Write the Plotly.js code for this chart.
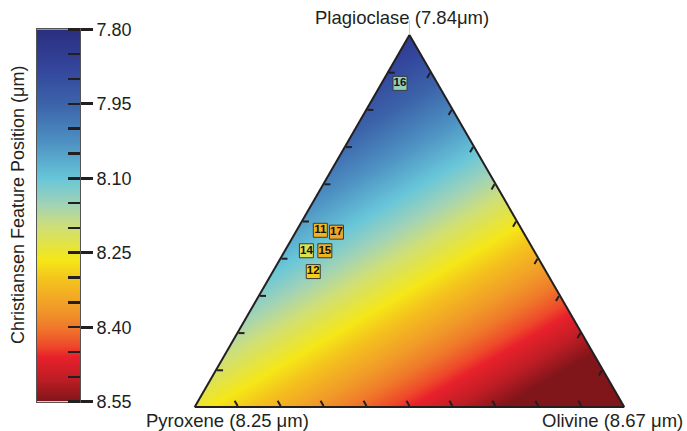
<!DOCTYPE html>
<html>
<head>
<meta charset="utf-8">
<script src="https://cdn.plot.ly/plotly-3.0.1.min.js"></script>
<style>
  html, body { margin: 0; padding: 0; background: #fff; }
  #chart { width: 687px; height: 431px; }
</style>
</head>
<body>
<div id="chart"></div>
<script>
// ---------- data ----------
const endmemberNames = ['Plagioclase', 'Pyroxene', 'Olivine'];
const endmemberCF = [7.84, 8.25, 8.67];            // µm, vertices a, b, c
const endmemberLabels = ['Plagioclase (7.84\u03bcm)', 'Pyroxene (8.25 \u03bcm)', 'Olivine (8.67 \u03bcm)'];

const sampleIds   = ['16', '11', '17', '14', '15', '12'];
const plagioclase = [0.87, 0.475, 0.47, 0.42, 0.42, 0.364];
const pyroxene    = [0.087, 0.47, 0.435, 0.53, 0.487, 0.542];
const olivine     = [0.043, 0.055, 0.095, 0.05, 0.093, 0.094];
const sampleCF    = [8.14, 8.325, 8.345, 8.225, 8.33, 8.29];

const cbTickVals = [7.80, 7.95, 8.10, 8.25, 8.40, 8.55];
const edgeTickVals = [0.1, 0.2, 0.3, 0.4, 0.5, 0.6, 0.7, 0.8, 0.9];
const cfMin = 7.80, cfMax = 8.55;

// ---------- style ----------
const cfScale = [
  [0.00, '#2b2f80'],
  [0.10, '#33459b'],
  [0.20, '#3c64aa'],
  [0.30, '#4d90c2'],
  [0.40, '#68c6d9'],
  [0.47, '#a2d3b6'],
  [0.53, '#cfdf78'],
  [0.62, '#f5e717'],
  [0.67, '#f4c41d'],
  [0.75, '#f19a29'],
  [0.80, '#ef7a2a'],
  [0.85, '#ee4a2a'],
  [0.88, '#e8212b'],
  [0.94, '#be1d25'],
  [1.00, '#80151a']
];
const FONT = 'Liberation Sans, Arial, Helvetica, sans-serif';
const INK = '#231f20';

const PW = 687, PH = 431;
const triTop = 35, triBottom = 407, triLeft = 194.7;
const triH = triBottom - triTop;
const triW = triH * 2 / Math.sqrt(3);
const dom = {
  x: [triLeft / PW, (triLeft + triW) / PW],
  y: [(PH - triBottom) / PH, (PH - triTop) / PH]
};
// cartesian frame for the colour field: a larger box on whole pixels
const boxL = 170, boxR = 650, boxT = 20, boxB = 425;
const fx0 = (boxL - triLeft) / triW, fx1 = (boxR - triLeft) / triW;
const fy0 = (triBottom - boxB) / triH, fy1 = (triBottom - boxT) / triH;
const cartDom = {
  x: [boxL / PW, boxR / PW],
  y: [(PH - boxB) / PH, (PH - boxT) / PH]
};

// linear mixing field across the triangle's box (x: 0..1 left->right, y: 0..1 bottom->apex)
const gx = [0, 0.5, 1], gy = [0, 0.5, 1];
const gz = gy.map(y => gx.map(x => {
  const a = y, c = x - y / 2, b = 1 - a - c;
  return a * endmemberCF[0] + b * endmemberCF[1] + c * endmemberCF[2];
}));

const field = {
  type: 'heatmap', x: gx, y: gy, z: gz, xaxis: 'x', yaxis: 'y',
  zsmooth: 'best', colorscale: cfScale, zmin: cfMin, zmax: cfMax,
  showscale: false, hoverinfo: 'skip'
};
const E = 0.5;
const maskStyle = { type: 'scatter', mode: 'lines', fill: 'toself', fillcolor: '#ffffff',
  line: { width: 0, color: '#ffffff' }, hoverinfo: 'skip', showlegend: false, xaxis: 'x', yaxis: 'y' };
const maskL = Object.assign({}, maskStyle, { x: [-E, 0, 0.5, 0.5, -E, -E], y: [0, 0, 1, 1 + E, 1 + E, 0] });
const maskR = Object.assign({}, maskStyle, { x: [1 + E, 1, 0.5, 0.5, 1 + E, 1 + E], y: [0, 0, 1, 1 + E, 1 + E, 0] });
const maskB = Object.assign({}, maskStyle, { x: [-E, 1 + E, 1 + E, -E, -E], y: [0, 0, -E, -E, 0] });

// manual colour bar
const cbar = {
  type: 'heatmap', x: [0, 1], y: [cfMin, cfMax], z: [[cfMin, cfMin], [cfMax, cfMax]],
  xaxis: 'x2', yaxis: 'y2', zsmooth: 'best', colorscale: cfScale, zmin: cfMin, zmax: cfMax,
  showscale: false, hoverinfo: 'skip'
};

const samples = {
  type: 'scatterternary', subplot: 'ternary',
  a: plagioclase, b: pyroxene, c: olivine,
  mode: 'markers+text', text: sampleIds.map(s => '<b>' + s + '</b>'),
  textposition: 'middle center',
  textfont: { family: FONT, size: 11.5, color: '#111' },
  marker: {
    symbol: 'square', size: 14, color: sampleCF, colorscale: cfScale, cmin: cfMin, cmax: cfMax,
    line: { color: '#3a3a3a', width: 1 }
  },
  hoverinfo: 'skip', showlegend: false, cliponaxis: false
};

const ternAxis = {
  title: { text: '' }, showgrid: false, showticklabels: false,
  tickmode: 'array', tickvals: edgeTickVals,
  ticks: 'inside', ticklen: 6, tickwidth: 2, tickcolor: INK,
  showline: true, linecolor: INK, linewidth: 2, min: 0
};

const layout = {
  width: PW, height: PH,
  margin: { l: 0, r: 0, t: 0, b: 0 },
  paper_bgcolor: '#ffffff', plot_bgcolor: 'rgba(0,0,0,0)',
  showlegend: false,
  font: { family: FONT, color: INK, size: 18 },
  xaxis: { domain: cartDom.x, range: [fx0, fx1], visible: false, fixedrange: true },
  yaxis: { domain: cartDom.y, range: [fy0, fy1], visible: false, fixedrange: true },
  xaxis2: {
    domain: [37 / PW, 80 / PW], range: [0, 1], anchor: 'y2',
    showticklabels: false, ticks: '', showgrid: false, zeroline: false,
    showline: true, mirror: true, linecolor: '#555', linewidth: 1
  },
  yaxis2: {
    domain: [(PH - 401.7) / PH, (PH - 29.3) / PH], range: [cfMax, cfMin], anchor: 'x2', side: 'right',
    tickmode: 'array', tickvals: cbTickVals, tickformat: '.2f',
    ticks: 'outside', ticklen: 12, tickwidth: 3, tickcolor: INK,
    tickfont: { family: FONT, size: 18, color: INK },
    minor: { ticks: 'inside', ticklen: 12, tickwidth: 2.5, tickcolor: INK, dtick: 0.05, tick0: cfMin, showgrid: false },
    showgrid: false, zeroline: false,
    showline: true, mirror: true, linecolor: '#555', linewidth: 1
  },
  ternary: {
    domain: dom, sum: 1, bgcolor: 'rgba(0,0,0,0)',
    aaxis: ternAxis, baxis: ternAxis, caxis: ternAxis
  },
  annotations: [
    { text: endmemberLabels[0], xref: 'paper', yref: 'paper', x: 402 / PW, y: (PH - 30) / PH,
      xanchor: 'center', yanchor: 'bottom', showarrow: false, font: { size: 18.5, color: INK, family: FONT } },
    { text: endmemberLabels[1], xref: 'paper', yref: 'paper', x: 227 / PW, y: (PH - 433) / PH,
      xanchor: 'center', yanchor: 'bottom', showarrow: false, font: { size: 18.5, color: INK, family: FONT } },
    { text: endmemberLabels[2], xref: 'paper', yref: 'paper', x: 685 / PW, y: (PH - 433) / PH,
      xanchor: 'right', yanchor: 'bottom', showarrow: false, font: { size: 18.5, color: INK, family: FONT } },
    { text: 'Christiansen Feature Position (\u03bcm)', xref: 'paper', yref: 'paper', x: 18 / PW, y: (PH - 205) / PH,
      xanchor: 'center', yanchor: 'middle', textangle: -90, showarrow: false, font: { size: 18, color: INK, family: FONT } }
  ]
};

Plotly.newPlot('chart', [field, maskL, maskR, maskB, cbar, samples], layout, { staticPlot: true, displayModeBar: false });
</script>
</body>
</html>
